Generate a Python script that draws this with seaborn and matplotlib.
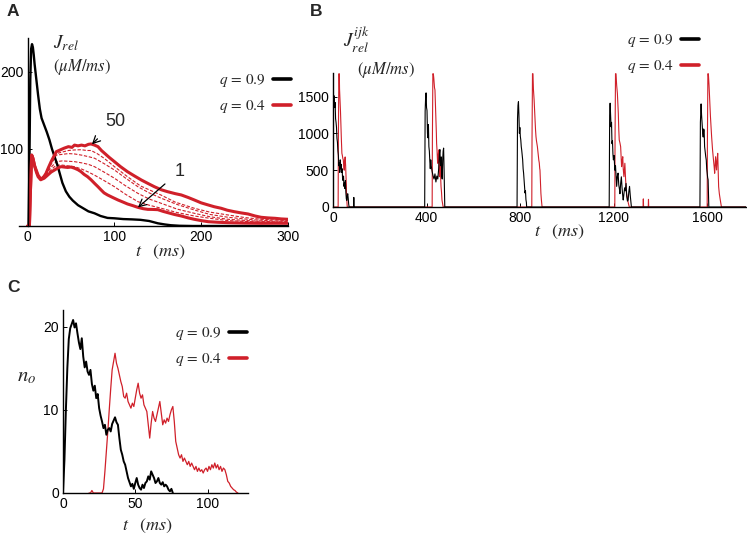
import numpy as np
import seaborn as sns
from matplotlib import pyplot as plt
from matplotlib.lines import Line2D

# ---------------- data ----------------
# panel A : J_rel (uM/ms) vs t (ms)
ja_t_q09 = [0, 1, 2, 3, 4, 5, 6, 7, 8, 10, 12, 14, 16, 18, 20, 22, 25, 28, 31, 34, 37, 40, 44, 48,
            52, 58, 64, 70, 77, 84, 92, 100, 110, 120, 130, 140, 150, 158, 165, 175, 190, 220, 260, 300]
ja_v_q09 = [0, 0, 80, 190, 230, 236, 232, 222, 210, 190, 170, 152, 140, 134, 128, 122, 112, 100, 90, 80,
            68, 56, 45, 38, 33, 27, 23, 19, 16.5, 13, 10.5, 10, 9, 8.6, 8, 6.5, 3.5, 2, 1, 0.3, 0, 0, 0, 0]

ja_t_50 = [0, 1, 2, 3, 4.6, 6, 8, 10, 12, 15, 18, 21, 24, 27, 30, 33, 38, 42, 47, 51, 54, 58, 62, 66, 70,
           73, 77, 81, 85, 89, 94, 100, 107, 115, 123, 131, 139, 146, 154, 161, 170, 177, 185, 192, 200,
           208, 215, 223, 230, 238, 246, 254, 262, 269, 277, 285, 292, 300]
ja_v_50 = [0, 0, 0, 40, 92, 88, 78, 72, 66, 61, 63, 68, 76, 83.5, 90, 96.5, 99, 101, 103, 102, 105, 104,
           105, 104, 106, 106.5, 105, 103, 98, 94, 89, 83.5, 77, 70.5, 65, 59.7, 55, 51, 47, 44.6, 42,
           40.3, 37, 33.8, 30, 27.3, 25, 23, 20.5, 18.6, 17, 15.6, 13, 11.3, 10.5, 10, 9.2, 8.7]

ja_t_1 = [0, 1, 2, 3, 4.6, 6, 8, 10, 12, 15, 19, 23, 27, 31, 35, 38.5, 42, 46, 50, 54, 58, 61.5, 65, 69,
          73, 77, 81, 84.6, 88, 92, 98, 104, 110, 115, 121, 127, 133, 138.5, 144, 150, 156, 161.5, 169,
          177, 185, 192, 200, 208, 220, 231, 250, 269, 285, 300]
ja_v_1 = [0, 0, 0, 40, 92, 88, 78, 70, 64, 60, 62, 66, 70, 72.7, 75.5, 77, 76.5, 76, 76.5, 75, 73, 70.5,
          67, 64, 60, 55.4, 51, 46.8, 43, 40.3, 37, 33.8, 31, 28.6, 26.5, 24.2, 22.5, 21.6, 21.5, 21.2,
          19, 17.3, 15, 13, 10.5, 8.7, 7, 5.6, 4.8, 4.3, 3.8, 3.5, 3.6, 3.5]

ja_t_d1 = [0, 2, 3, 4.6, 8, 12, 15, 20, 26, 33, 40, 47, 54, 62, 68, 73, 80, 88, 100, 115, 130, 154, 170,
           192, 210, 231, 250, 269, 285, 300]
ja_v_d1 = [0, 0, 40, 92, 78, 66, 61, 67, 80, 94, 96, 98, 98.7, 99, 98, 98, 94, 88, 77, 64, 52, 40, 31,
           23, 18, 14.3, 11, 8.7, 7.8, 7]
ja_t_d = [0, 2, 3, 4.6, 8, 12, 15, 20, 26, 33, 40, 47, 54, 62, 70, 77, 88, 100, 113, 127, 140, 154, 172,
          192, 210, 231, 260, 300]
ja_v_d2 = [0, 0, 40, 92, 78, 66, 61, 66, 78, 92, 93, 94, 93.5, 92, 90, 88, 81, 72.7, 62, 51, 43, 36, 28,
           20.8, 15, 11.3, 8, 5.6]
ja_v_d3 = [0, 0, 40, 92, 78, 66, 61, 64, 75, 83.5, 84.5, 84, 83.5, 82, 80, 77, 70, 62, 52, 42.4, 35,
           29.4, 22, 16.5, 12, 8.7, 6.5, 4.8]
ja_v_d4 = [0, 0, 40, 92, 78, 66, 61, 63, 72, 79, 79, 78, 77, 74, 70, 66, 59, 51, 41, 31.6, 27, 23, 17.5,
           13, 10, 7, 5.5, 4.3]

# panel B : J_rel^ijk over five beats, (t, value)
jb_q09 = [(0, 0), (1, 1250), (2, 1480), (3, 1420), (5, 1510), (7, 1350), (9, 1420), (11, 1200),
          (13, 1150), (15, 1080), (17, 930), (19, 880), (21, 760), (23, 700), (25, 560), (27, 600),
          (29, 470), (31, 640), (33, 520), (35, 580), (37, 470), (39, 520), (41, 380), (43, 360),
          (45, 420), (47, 280), (49, 330), (51, 250), (53, 360), (55, 200), (57, 110), (59, 90),
          (61, 150), (63, 180), (65, 120), (67, 40), (69, 0), (88, 0), (89, 130), (90, 0),
          (392, 0), (394, 1300), (396, 1480), (398, 1550), (400, 1350), (402, 1310), (404, 1000),
          (406, 940), (408, 1120), (410, 820), (412, 760), (414, 620), (416, 520), (418, 640),
          (420, 560), (424, 480), (428, 420), (432, 380), (436, 450), (440, 340), (444, 420),
          (448, 380), (452, 520), (455, 720), (457, 780), (459, 620), (461, 560), (463, 680),
          (465, 420), (467, 380), (469, 640), (471, 760), (473, 800), (475, 500), (477, 120), (478, 0),
          (787, 0), (789, 1200), (791, 1380), (793, 1430), (795, 1250), (797, 1000), (799, 1080),
          (801, 960), (803, 910), (805, 820), (807, 770), (809, 700), (811, 640), (813, 520),
          (815, 460), (817, 370), (819, 300), (821, 190), (823, 220), (825, 100), (827, 60), (828, 0),
          (1181, 0), (1183, 1250), (1185, 1410), (1187, 1250), (1189, 1090), (1191, 1150),
          (1193, 860), (1195, 900), (1197, 720), (1199, 640), (1202, 700), (1205, 500), (1208, 560),
          (1211, 380), (1213, 280), (1216, 420), (1219, 460), (1222, 300), (1225, 240), (1227, 180),
          (1230, 320), (1233, 410), (1236, 260), (1239, 150), (1241, 95), (1244, 180), (1247, 260),
          (1250, 220), (1253, 320), (1256, 150), (1259, 80), (1262, 95), (1265, 210), (1268, 280),
          (1271, 160), (1274, 60), (1276, 0),
          (1569, 0), (1571, 1150), (1574, 1400), (1576, 1250), (1579, 1090), (1581, 1000),
          (1583, 950), (1585, 1060), (1587, 1040), (1589, 820), (1592, 730), (1594, 680), (1596, 640),
          (1598, 520), (1600, 460), (1602, 400), (1604, 370), (1606, 100), (1607, 0), (1770, 0)]
jb_q04 = [(0, 0), (22, 0), (23, 900), (25, 1810), (27, 1810), (28, 1600), (30, 1450), (32, 1300),
          (34, 1090), (36, 900), (38, 730), (40, 700), (42, 660), (44, 640), (46, 560), (48, 500),
          (50, 620), (52, 680), (54, 560), (56, 410), (57, 300), (58, 140), (60, 40), (61, 0),
          (424, 0), (425, 900), (427, 1810), (429, 1810), (431, 1750), (434, 1620), (436, 1590),
          (438, 1400), (440, 1230), (442, 1000), (443, 865), (445, 760), (447, 620), (448, 594),
          (450, 700), (452, 775), (454, 560), (455, 412), (457, 520), (458, 638), (460, 420),
          (462, 276), (464, 200), (466, 95), (468, 60), (471, 0),
          (850, 0), (851, 900), (853, 1810), (855, 1810), (857, 1600), (860, 1454), (862, 1300),
          (864, 1182), (866, 1050), (868, 955), (870, 900), (872, 860), (874, 819), (876, 760),
          (878, 700), (880, 638), (882, 600), (884, 520), (885, 503), (887, 350), (889, 186),
          (891, 100), (894, 0),
          (1205, 0), (1206, 900), (1208, 1810), (1210, 1810), (1213, 1650), (1216, 1545), (1218, 1400),
          (1220, 1273), (1222, 1050), (1224, 910), (1227, 870), (1230, 819), (1232, 680), (1234, 548),
          (1236, 620), (1239, 683), (1241, 520), (1244, 412), (1246, 500), (1248, 594), (1251, 380),
          (1255, 186), (1259, 120), (1263, 50), (1267, 0),
          (1326, 0), (1327, 110), (1328, 0), (1348, 0), (1349, 104), (1350, 0),
          (1600, 0), (1601, 900), (1603, 1810), (1605, 1810), (1608, 1650), (1610, 1499), (1612, 1350),
          (1614, 1227), (1617, 1050), (1619, 955), (1621, 860), (1623, 775), (1625, 700), (1627, 638),
          (1630, 540), (1632, 458), (1634, 560), (1636, 683), (1638, 590), (1640, 503), (1642, 620),
          (1645, 729), (1647, 480), (1649, 276), (1652, 180), (1656, 95), (1661, 0), (1770, 0)]

# panel C : open channels n_o, 1 ms samples
nc_q09 = [0, 4, 10, 15, 18.5, 19.8, 20.3, 20.8, 19.9, 20.4, 19.2, 18.1, 17.3, 18.6, 16.4, 15.1, 15.8,
          14.6, 14.2, 14.8, 13.1, 12.3, 12.9, 11.4, 11.9, 10.2, 9.3, 8.6, 7.8, 8.2, 7.0, 7.6, 7.8, 7.4,
          8.3, 8.7, 9.1, 8.5, 8.2, 6.6, 5.2, 4.6, 3.8, 3.4, 2.6, 1.8, 1.3, 0.8, 1.1, 0.5, 1.2, 1.8, 1.0,
          0.6, 0.4, 1.0, 0.6, 1.2, 1.4, 2.0, 1.6, 2.6, 2.2, 1.8, 1.2, 1.4, 1.8, 1.2, 1.0, 1.3, 0.8, 1.0,
          0.8, 0.4, 0.2, 0.5, 0]
nc_q04_start = 18
nc_q04 = [0, 0, 0.3, 0, 0, 0, 0, 0, 0, 0, 0.5, 2.6, 5, 7.4, 10, 12.5, 14.8, 15.8, 16.8, 15.6, 15.0,
          14.2, 13.4, 12.8, 11.6, 11.4, 12.0, 11.0, 10.6, 10.2, 10.8, 10.4, 11.4, 12.4, 13.2, 12.0,
          11.4, 11.8, 10.6, 10.2, 9.8, 8.2, 6.6, 8.4, 9.8, 9.0, 8.6, 9.4, 10.2, 11.0, 9.6, 8.2, 8.8,
          8.4, 9.0, 8.6, 9.4, 10.0, 10.4, 8.6, 6.2, 5.4, 4.6, 4.2, 4.6, 3.8, 4.2, 3.8, 3.4, 3.8, 3.2,
          3.6, 3.2, 2.8, 3.2, 2.6, 3.0, 2.6, 2.8, 2.4, 2.8, 3.0, 2.6, 3.2, 2.8, 3.4, 3.0, 3.6, 3.0, 3.4,
          2.8, 3.2, 2.6, 3.0, 2.8, 2.2, 1.4, 1.2, 0.8, 0.6, 0.4, 0.3, 0.1, 0]

legend_labels = [r"$q\,=\,0.9$", r"$q\,=\,0.4$"]

RED = "#d0202a"
BLACK = "#000000"

# ---------------- style ----------------
sns.set_style("ticks")
plt.rcParams['font.family'] = ['Liberation Sans', 'DejaVu Sans']
plt.rcParams['mathtext.fontset'] = 'stix'

W, H = 747, 537
fig = plt.figure(figsize=(W / 100, H / 100), dpi=100)


def box(x0, y_top, x1, y_bot):
    return [x0 / W, 1 - y_bot / H, (x1 - x0) / W, (y_bot - y_top) / H]


def ftext(x, y, s, **kw):
    fig.text(x / W, 1 - y / H, s, ha='center', va='center', **kw)


def style_axes(ax):
    sns.despine(ax=ax)
    for sp in ('left', 'bottom'):
        ax.spines[sp].set_linewidth(1.0)
        ax.spines[sp].set_color('black')
    ax.spines['left'].set_position(('data', 0))
    ax.tick_params(direction='in', length=3, width=0.7, labelsize=10, pad=3, colors='black')


def add_legend(ax, x_right, y_top):
    handles = [Line2D([], [], color=BLACK, lw=2.6), Line2D([], [], color=RED, lw=2.6)]
    ax.legend(handles, legend_labels, loc='upper right', markerfirst=False, frameon=False,
              bbox_to_anchor=(x_right / W, 1 - y_top / H), bbox_transform=fig.transFigure,
              borderpad=0, borderaxespad=0, handlelength=1.15, handletextpad=0.5,
              labelspacing=0.6, fontsize=11)


# ---------------- panel A ----------------
axA = fig.add_axes(box(19, 38, 288, 226))
dash = (0, (3, 1.5))
for v in (ja_v_d2, ja_v_d3, ja_v_d4):
    sns.lineplot(x=ja_t_d, y=v, ax=axA, color=RED, lw=0.8, linestyle=dash, estimator=None)
sns.lineplot(x=ja_t_d1, y=ja_v_d1, ax=axA, color=RED, lw=0.8, linestyle=dash, estimator=None)
sns.lineplot(x=ja_t_q09, y=ja_v_q09, ax=axA, color=BLACK, lw=1.7, estimator=None)
sns.lineplot(x=ja_t_1, y=ja_v_1, ax=axA, color=RED, lw=2.2, estimator=None)
sns.lineplot(x=ja_t_50, y=ja_v_50, ax=axA, color=RED, lw=2.2, estimator=None)
axA.set_xlim(-10, 300)
axA.set_ylim(0, 244)
axA.set_xticks([0, 100, 200, 300])
axA.set_yticks([100, 200])
style_axes(axA)
axA.annotate("50", xy=(74, 106), xytext=(101, 136), fontsize=13, ha='center', va='center',
             arrowprops=dict(arrowstyle='->', color='black', lw=0.9, shrinkA=6, shrinkB=0))
axA.annotate("1", xy=(127, 24), xytext=(175, 71), fontsize=13, ha='center', va='center',
             arrowprops=dict(arrowstyle='->', color='black', lw=0.9, shrinkA=6, shrinkB=0))
add_legend(axA, 291, 72)

# ---------------- panel B ----------------
axB = fig.add_axes(box(333, 73, 746, 207))
bt_red, bv_red = zip(*jb_q04)
bt_blk, bv_blk = zip(*jb_q09)
sns.lineplot(x=list(bt_red), y=list(bv_red), ax=axB, color=RED, lw=0.8, estimator=None)
sns.lineplot(x=list(bt_blk), y=list(bv_blk), ax=axB, color=BLACK, lw=0.8, estimator=None)
axB.set_xlim(0, 1766)
axB.set_ylim(0, 1820)
axB.set_xticks([0, 400, 800, 1200, 1600])
axB.set_yticks([0, 500, 1000, 1500])
style_axes(axB)
add_legend(axB, 699, 32)

# ---------------- panel C ----------------
axC = fig.add_axes(box(63, 310, 248, 493))
tc_blk = np.arange(len(nc_q09))
tc_red = np.arange(len(nc_q04)) + nc_q04_start
sns.lineplot(x=tc_red, y=nc_q04, ax=axC, color=RED, lw=0.9, estimator=None)
sns.lineplot(x=tc_blk, y=nc_q09, ax=axC, color=BLACK, lw=1.4, estimator=None)
axC.set_xlim(0, 128)
axC.set_ylim(0, 22)
axC.set_xticks([0, 50, 100])
axC.set_yticks([0, 10, 20])
style_axes(axC)
add_legend(axC, 247, 325)

# ---------------- text ----------------
ftext(13, 12, "A", fontsize=12.5, fontweight='bold')
ftext(316, 12, "B", fontsize=12.5, fontweight='bold')
ftext(14, 288, "C", fontsize=12.5, fontweight='bold')

ftext(66, 43, r"$J_{rel}$", fontsize=14)
ftext(82, 67, r"$(\mu M/ms)$", fontsize=12)
ftext(161, 252, r"$t\ \ \ (ms)$", fontsize=13)

ftext(356, 40, r"$J_{rel}^{ijk}$", fontsize=14)
ftext(386, 70, r"$(\mu M/ms)$", fontsize=12)
ftext(560, 232, r"$t\ \ \ (ms)$", fontsize=13)

ftext(27, 376, r"$n_o$", fontsize=15)
ftext(148, 526, r"$t\ \ \ (ms)$", fontsize=13)

fig.savefig("out.png", dpi=100)
